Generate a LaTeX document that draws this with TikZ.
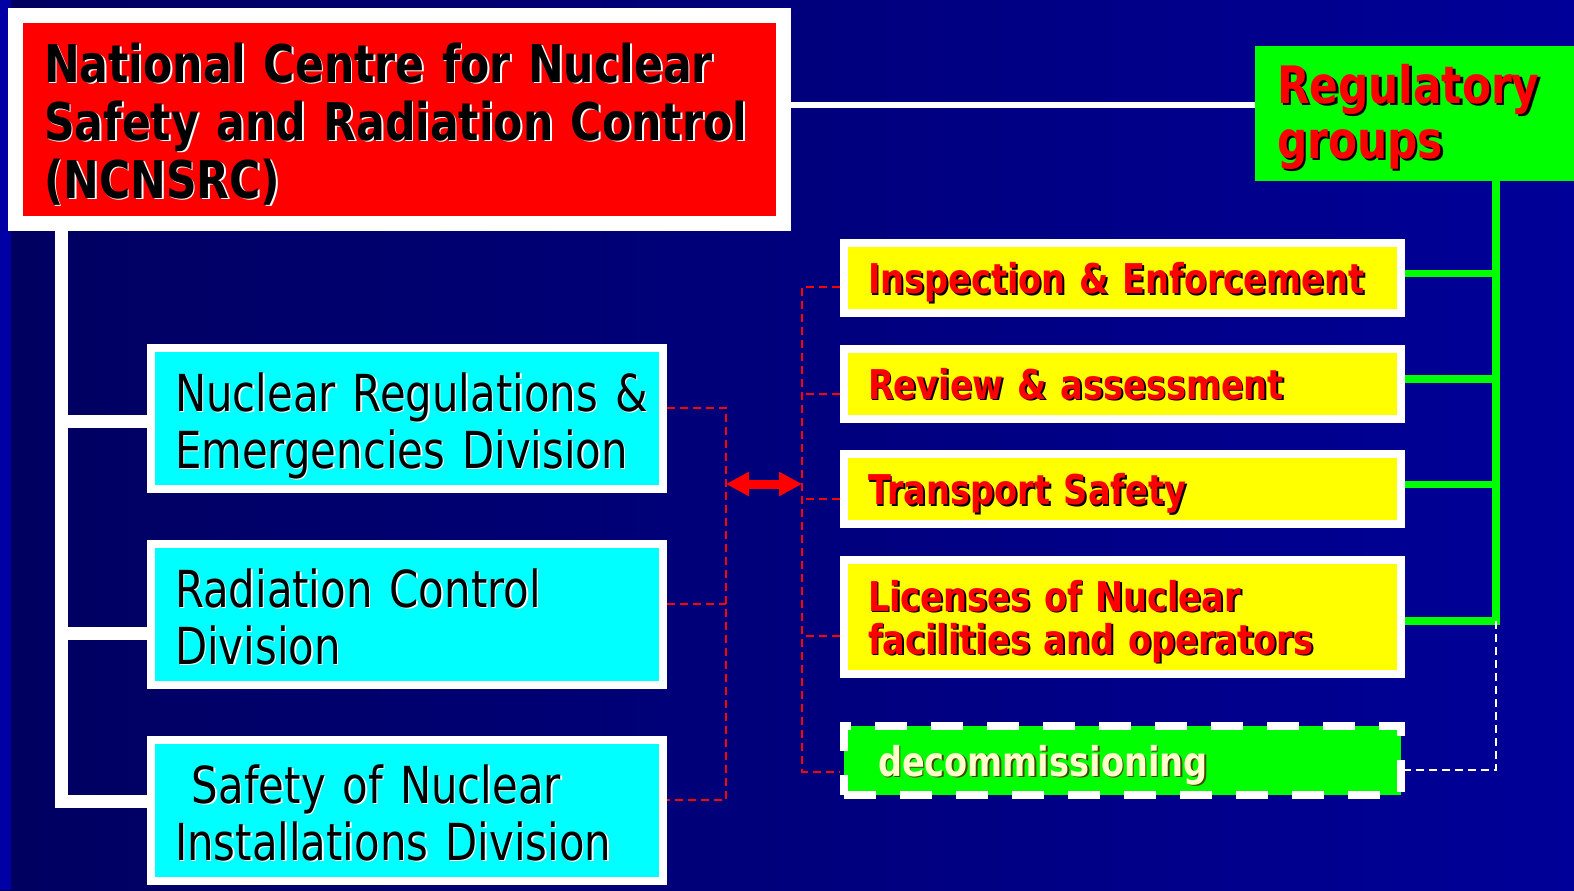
\documentclass[tikz,border=0pt]{standalone}
\usepackage{fontspec}
\setmainfont[FakeStretch=0.82]{DejaVu Sans}
\usetikzlibrary{arrows.meta,calc}

\definecolor{bgleft}{RGB}{0,0,96}
\definecolor{bgright}{RGB}{0,0,152}
\definecolor{bgstrip}{RGB}{0,0,165}
\definecolor{boxred}{RGB}{255,0,0}
\definecolor{boxgreen}{RGB}{0,255,0}
\definecolor{boxyellow}{RGB}{255,255,0}
\definecolor{boxcyan}{RGB}{0,255,255}
\definecolor{cream}{RGB}{255,255,204}
\definecolor{olivedark}{RGB}{70,70,0}

% text with a small drop shadow behind it
\newcommand{\shd}[3][0.9pt]{\makebox[0pt][l]{\hspace{#1}\raisebox{-#1}{\color{#2}#3}}\mbox{#3}}

\begin{document}
\begin{tikzpicture}[x=0.5pt,y=-0.5pt,
   titlebox/.style={rectangle,fill=boxred,draw=white,line width=7.5pt,
     minimum width=384pt,minimum height=104pt,inner xsep=14.25pt,inner ysep=0pt,
     text width=355.5pt,text height=20.5pt,text depth=58pt,align=left,text=black,
     font=\bfseries\fontsize{26}{29}\selectfont},
   regbox/.style={rectangle,fill=boxgreen,minimum width=159.5pt,minimum height=67.5pt,
     inner xsep=11pt,inner ysep=0pt,text width=137.5pt,text height=17pt,text depth=27.5pt,
     align=left,text=boxred,font=\bfseries\fontsize{25.8}{27.5}\selectfont},
   divbox/.style={rectangle,fill=boxcyan,draw=white,line width=4pt,
     minimum width=256pt,minimum height=70.5pt,inner xsep=12pt,inner ysep=0pt,
     text width=232pt,text height=21pt,text depth=28.5pt,align=left,text=black,
     font=\fontsize{25.5}{28.5}\selectfont},
   grpbox/.style={rectangle,fill=boxyellow,draw=white,line width=4pt,
     minimum width=278.5pt,minimum height=#1,inner xsep=12pt,inner ysep=0pt,
     text width=254.5pt,text height=15.5pt,text depth=0pt,align=left,text=boxred,
     font=\bfseries\fontsize{20.5}{21.5}\selectfont},
   grpbox/.default=35pt,
   decombox/.style={grpbox=34.5pt,fill=boxgreen,dash pattern=on 16pt off 12pt,
     inner xsep=17pt,text width=244.5pt,text=cream},
   trunk/.style={white,line width=6.5pt},
   greenline/.style={boxgreen,line width=3.75pt},
   reddash/.style={boxred,line width=1pt,dash pattern=on 4pt off 2.5pt},
   whitedash/.style={white,line width=1pt,dash pattern=on 4pt off 2.5pt},
   bidir/.style={boxred,line width=4.5pt,
     {Triangle[length=11.5pt,width=11.5pt]}-{Triangle[length=11.5pt,width=11.5pt]}}]

 \useasboundingbox (0,0) rectangle (1574,890);
 \shade[left color=bgleft,right color=bgright] (0,0) rectangle (1574,890);
 \fill[bgstrip] (0,0) rectangle (11,890);

 % centre and the regulatory groups
 \node[titlebox] (ncnsrc) at (399.5,119.5)
   {\shd{white}{National Centre for Nuclear}\\
    \shd{white}{Safety and Radiation Control}\\
    \shd{white}{(NCNSRC)}};
 \node[regbox] (reg) at (1414.5,113.5)
   {\shd[1.3pt]{black}{Regulatory}\\ \shd[1.3pt]{black}{groups}};

 % divisions
 \node[divbox] (nucreg) at (407,418.5)
   {\shd[0.7pt]{white}{Nuclear Regulations \&}\\ \shd[0.7pt]{white}{Emergencies Division}};
 \node[divbox] (radctrl) at (407,614.5)
   {\shd[0.7pt]{white}{Radiation Control}\\ \shd[0.7pt]{white}{Division}};
 \node[divbox] (safety) at (407,810.5)
   {\shd[0.7pt]{white}{~Safety of Nuclear}\\ \shd[0.7pt]{white}{Installations Division}};

 % groups
 \node[grpbox] (inspect) at (1122.5,278) {\shd{black}{Inspection \& Enforcement}};
 \node[grpbox] (review) at (1122.5,383.5) {\shd{black}{Review \& assessment}};
 \node[grpbox] (transport) at (1122.5,489) {\shd{black}{Transport Safety}};
 \node[grpbox=57pt,text depth=21.5pt] (licence) at (1122.5,617)
   {\shd{black}{Licenses of Nuclear}\\ \shd{black}{facilities and operators}};
 \node[decombox] (decom) at (1122.5,760.5) {\shd{olivedark}{decommissioning}};

 \coordinate (trunktop) at ([xshift=26.5pt]ncnsrc.south west);
 \coordinate (gbus) at ([xshift=40.75pt]reg.south);
 \coordinate (lbus) at (726,484);
 \coordinate (rbus) at (802,484);

 % solid links
 \draw[white,line width=3pt] ([yshift=7.25pt]ncnsrc.east) -- ([yshift=7.25pt]ncnsrc.east -| reg.west);
 \draw[trunk] (trunktop) |- ([yshift=4.75pt]safety.west);
 \draw[trunk] ([yshift=-1.25pt]nucreg.west -| trunktop) -- ([yshift=-1.25pt]nucreg.west);
 \draw[trunk] ([yshift=-9.25pt]radctrl.west -| trunktop) -- ([yshift=-9.25pt]radctrl.west);

 \draw[greenline] (gbus) |- ([yshift=-2pt]licence.east);
 \foreach \g in {inspect,review,transport}
   \draw[greenline] ([yshift=2.25pt]\g.east) -- ([yshift=2.25pt]\g.east -| gbus);
 \draw[whitedash] ([yshift=-2pt]licence.east -| gbus) |- ([yshift=-4.5pt]decom.east);

 % dashed links
 \draw[reddash] ([yshift=5.5pt]nucreg.east) -| ([yshift=5.5pt]safety.east -| lbus) -- ([yshift=5.5pt]safety.east);
 \draw[reddash] ([yshift=5.5pt]radctrl.east) -- ([yshift=5.5pt]radctrl.east -| lbus);
 \draw[reddash] ([yshift=-4.5pt]inspect.west) -| ([yshift=-5.5pt]decom.west -| rbus) -- ([yshift=-5.5pt]decom.west);
 \draw[reddash] ([yshift=-5pt]review.west) -- ([yshift=-5pt]review.west -| rbus);
 \draw[reddash] ([yshift=-5pt]transport.west) -- ([yshift=-5pt]transport.west -| rbus);
 \draw[reddash] ([yshift=-9.5pt]licence.west) -- ([yshift=-9.5pt]licence.west -| rbus);

 \draw[bidir] (lbus) -- (rbus);

\end{tikzpicture}
\end{document}
